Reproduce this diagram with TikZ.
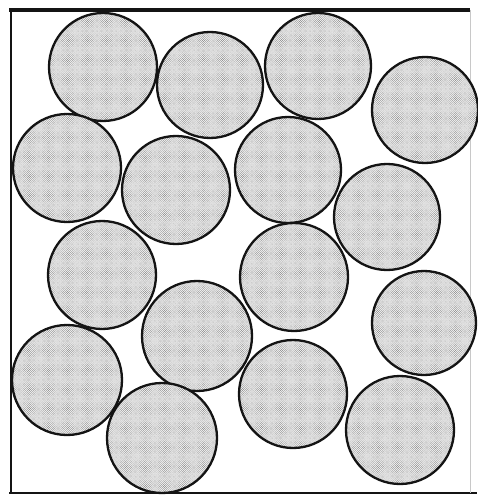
\documentclass[tikz,border=0pt]{standalone}
\usepackage{xcolor}
\usepackage{tikz}
\usetikzlibrary{patterns}
\definecolor{diskfill}{RGB}{236, 236, 236}
\definecolor{diskdots}{RGB}{105, 105, 105}
\definecolor{diskline}{RGB}{20, 20, 20}
\definecolor{faintedge}{RGB}{200, 200, 200}

\begin{document}
\begin{tikzpicture}[x=0.5mm, y=-0.5mm,
    disk/.style={draw=diskline, line width=3.3pt, preaction={fill=diskfill}, pattern=crosshatch dots, pattern color=diskdots}]
    \useasboundingbox (0,0) rectangle (477,496);

    % Container walls
    \draw[line width=2.8pt, color=diskline] (11,10) -- (11,493);
    \draw[line width=4.5pt, color=diskline] (9,10) -- (470,10);
    \draw[line width=3.6pt, color=diskline] (9,493) -- (477,493);
    \draw[line width=0.8pt, color=faintedge] (470,10) -- (470,493);

    % Packed disks (centre x, centre y, radius)
    \foreach \cx/\cy/\r in {103/67/54, 210/85/53, 318/66/53, 425/110/53,
                           67/168/54, 176/190/54, 288/170/53, 387/217/53,
                           102/275/54, 294/277/54, 197/336/55, 424/323/52,
                           67/380/55, 293/394/54, 162/438/55, 400/430/54}
        \path[disk] (\cx,\cy) circle [radius=\r*0.5mm];
\end{tikzpicture}
\end{document}
